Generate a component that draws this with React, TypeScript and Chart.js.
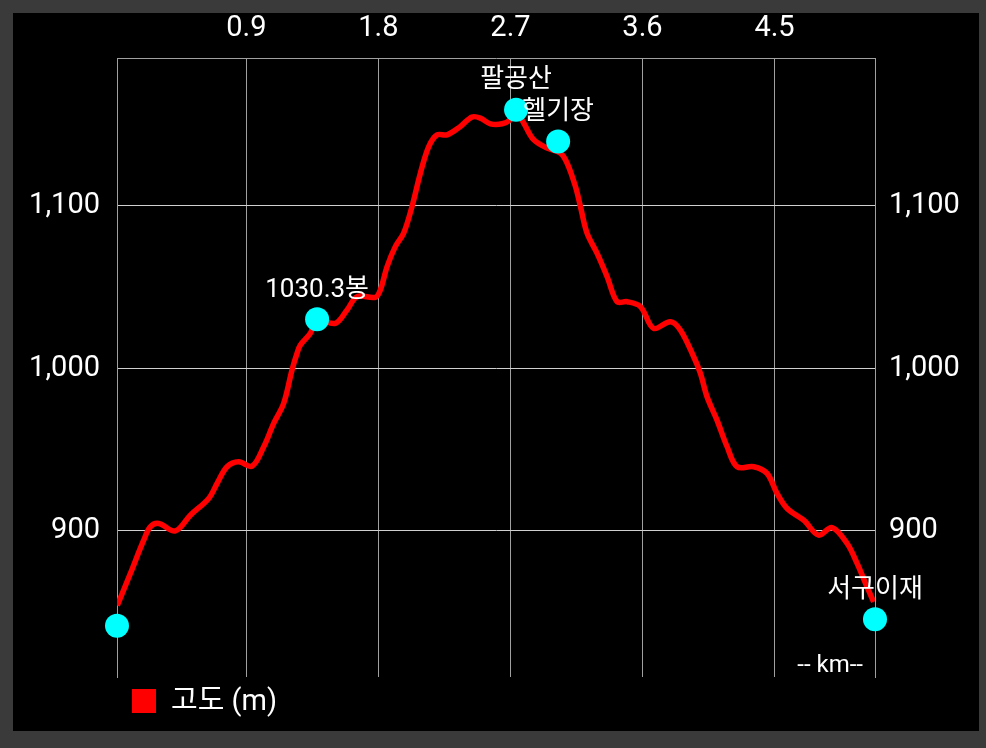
import React, { useEffect, useRef } from "react";
import { Chart, registerables } from "chart.js";

Chart.register(...registerables);

// Elevation profile (distance km, elevation m)
const distanceKm = [
  0.02, 0.109, 0.2, 0.245, 0.302, 0.416, 0.518, 0.643, 0.7, 0.768, 0.847, 0.939,
  1.018, 1.086, 1.154, 1.211, 1.245, 1.268, 1.336, 1.382, 1.506, 1.586, 1.654,
  1.779, 1.813, 1.859, 1.915, 1.972, 2.029, 2.086, 2.143, 2.2, 2.268, 2.359,
  2.438, 2.495, 2.563, 2.643, 2.699, 2.738, 2.79, 2.858, 2.95, 3.04, 3.086,
  3.143, 3.177, 3.222, 3.29, 3.359, 3.427, 3.495, 3.586, 3.676, 3.79, 3.858,
  3.949, 3.995, 4.04, 4.108, 4.177, 4.245, 4.358, 4.449, 4.517, 4.586, 4.699,
  4.801, 4.892, 4.995, 5.063, 5.131, 5.176,
];
const elevationM = [
  854, 873.7, 894.2, 902.4, 904.5, 899.9, 909.6, 919.9, 929.1, 939.4, 942.5, 939.8,
  951.7, 966.1, 978.4, 999, 1009.2, 1014.4, 1021.6, 1029.8, 1027.7, 1035.9, 1044.1,
  1043.7, 1048.2, 1062.6, 1074.9, 1083.2, 1099.6, 1120.1, 1136.5, 1143.7, 1143.7, 1148.9,
  1154.7, 1154.0, 1150.5, 1150.5, 1153.0, 1158.0, 1151.0, 1140.7, 1135.6, 1132.5, 1126.3,
  1111.9, 1099.6, 1083.2, 1070.9, 1056.4, 1041.0, 1041.0, 1038.0, 1024.6, 1028.7, 1023.6,
  1007.1, 996.9, 982.5, 968.1, 951.7, 939.4, 939.4, 935.3, 923.0, 913.7, 906.5,
  897.3, 902.0, 892.2, 879.9, 865.4, 856.2,
];

// Waypoints
const waypointNames = ["", "1030.3봉", "팔공산", "헬기장", "서구이재"];
const waypointKm = [0.018, 1.382, 2.738, 3.025, 5.185];
const waypointM = [841.5, 1030.2, 1159.1, 1139.6, 845.6];

// Axes
const xTicks = [0.9, 1.8, 2.7, 3.6, 4.5];
const yTicks = [900, 1000, 1100];
const xMin = 0.018;
const xMax = 5.185;
const yMin = 810;
const yMax = 1191;

const legendLabel = "고도 (m)";
const unitLabel = "-- km--";

const FONT = "Roboto, 'Noto Sans CJK KR', sans-serif";

const overlayPlugin = {
  id: "overlay",
  afterDatasetsDraw(chart: any) {
    const ctx = chart.ctx;
    ctx.save();
    ctx.fillStyle = "#ffffff";
    ctx.textAlign = "center";
    ctx.textBaseline = "middle";
    ctx.font = `26px ${FONT}`;
    const meta = chart.getDatasetMeta(1);
    meta.data.forEach((el: any, i: number) => {
      const name = waypointNames[i];
      if (name) ctx.fillText(name, el.x, el.y - 29);
    });
    ctx.restore();
  },
  afterDraw(chart: any) {
    const ctx = chart.ctx;
    const area = chart.chartArea;
    ctx.save();
    ctx.fillStyle = "#ffffff";
    ctx.font = `24px ${FONT}`;
    ctx.textAlign = "right";
    ctx.textBaseline = "middle";
    ctx.fillText(unitLabel, area.right - 12, area.bottom - 11);
    // legend
    ctx.fillStyle = "#ff0000";
    ctx.fillRect(area.left + 15, area.bottom + 12, 24, 24);
    ctx.fillStyle = "#ffffff";
    ctx.font = `29px ${FONT}`;
    ctx.textAlign = "left";
    ctx.fillText(legendLabel, area.left + 54, area.bottom + 26);
    ctx.restore();
  },
};

export default function App() {
  const canvasRef = useRef<HTMLCanvasElement | null>(null);

  useEffect(() => {
    const canvas = canvasRef.current;
    if (!canvas) return;
    const lineData = distanceKm.map((x, i) => ({ x, y: elevationM[i] }));
    const pointData = waypointKm.map((x, i) => ({ x, y: waypointM[i] }));
    const tickFont = { family: FONT, size: 29 };
    const chart = new Chart(canvas, {
      type: "line",
      data: {
        datasets: [
          {
            label: legendLabel,
            data: lineData,
            borderColor: "#ff0000",
            backgroundColor: "#ff0000",
            borderWidth: 5.5,
            pointRadius: 0,
            tension: 0.35,
            order: 1,
          },
          {
            label: "waypoints",
            data: pointData,
            showLine: false,
            pointRadius: 12,
            pointBackgroundColor: "#00ffff",
            pointBorderWidth: 0,
            borderColor: "#00ffff",
            clip: false as any,
            order: 0,
          },
        ],
      },
      plugins: [overlayPlugin],
      options: {
        animation: false,
        responsive: false,
        locale: "en-US",
        layout: { padding: { left: 0, right: 0, top: 0, bottom: 54 } },
        plugins: {
          legend: { display: false },
          tooltip: { enabled: false },
        },
        scales: {
          x: {
            type: "linear",
            position: "top",
            min: xMin,
            max: xMax,
            afterBuildTicks: (scale: any) => {
              scale.ticks = xTicks.map((v) => ({ value: v }));
            },
            afterFit: (scale: any) => {
              scale.height = 45;
            },
            grid: { color: "#a0a0a0", lineWidth: 1, drawTicks: false },
            border: { display: true, color: "#a0a0a0", width: 1 },
            ticks: { color: "#ffffff", font: tickFont, padding: 12, maxRotation: 0 },
          },
          y: {
            type: "linear",
            position: "left",
            min: yMin,
            max: yMax,
            afterBuildTicks: (scale: any) => {
              scale.ticks = yTicks.map((v) => ({ value: v }));
            },
            afterFit: (scale: any) => {
              scale.width = 104;
            },
            grid: { color: "#d0d0d0", lineWidth: 1, drawTicks: false },
            border: { display: true, color: "#a0a0a0", width: 1 },
            ticks: { color: "#ffffff", font: tickFont, padding: 17 },
          },
          y2: {
            type: "linear",
            position: "right",
            min: yMin,
            max: yMax,
            afterBuildTicks: (scale: any) => {
              scale.ticks = yTicks.map((v) => ({ value: v }));
            },
            afterFit: (scale: any) => {
              scale.width = 104;
            },
            grid: { drawOnChartArea: false, drawTicks: false },
            border: { display: true, color: "#a0a0a0", width: 1 },
            ticks: { color: "#ffffff", font: tickFont, padding: 14 },
          },
        },
      } as any,
    });
    return () => chart.destroy();
  }, []);

  return (
    <div
      style={{
        position: "fixed",
        left: 0,
        top: 0,
        width: 986,
        height: 748,
        background: "#3a3a3a",
      }}
    >
      <div
        style={{
          position: "absolute",
          left: 13,
          top: 13,
          width: 966,
          height: 718,
          background: "#000000",
        }}
      >
        <canvas
          ref={canvasRef}
          width={966}
          height={718}
          style={{ width: 966, height: 718, display: "block" }}
        />
      </div>
    </div>
  );
}
